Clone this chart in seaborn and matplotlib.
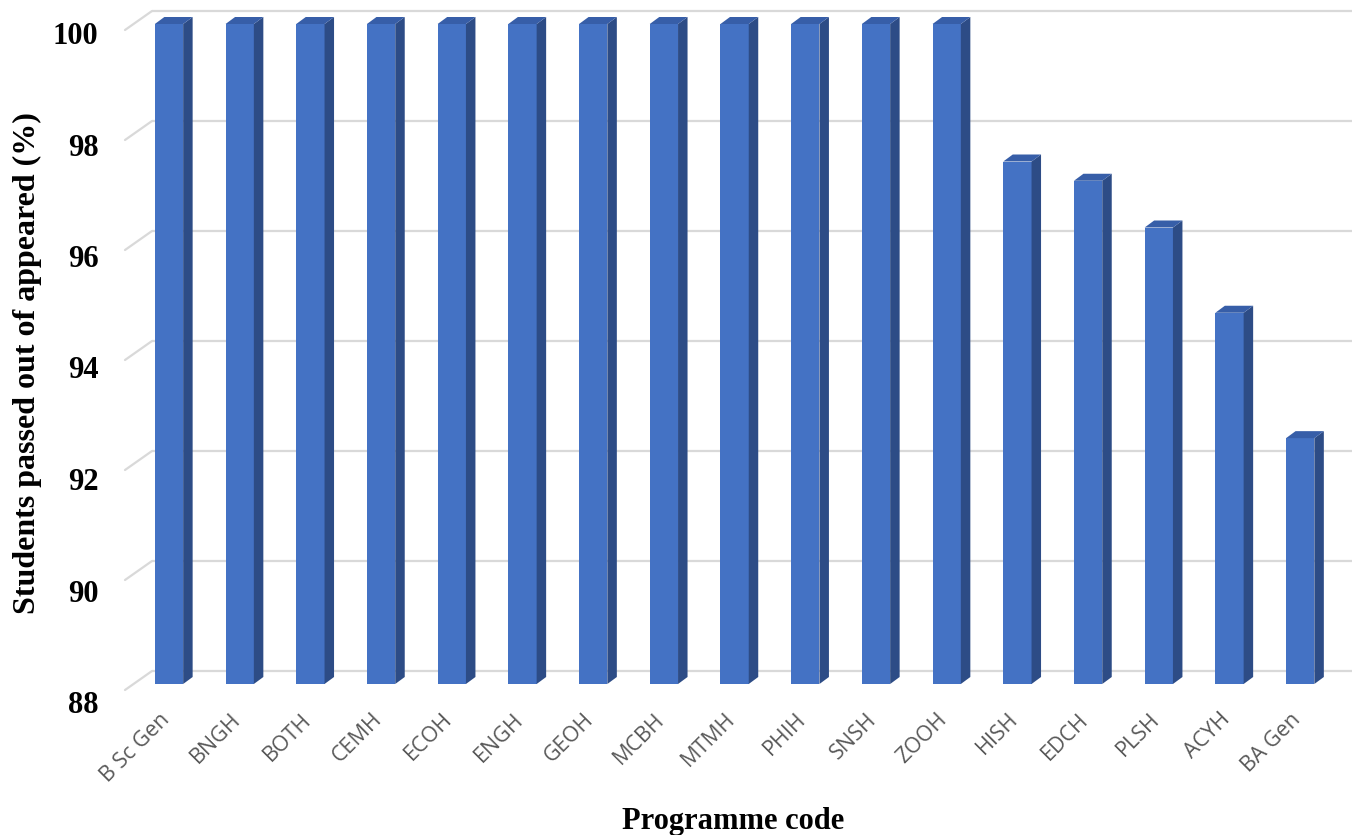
import numpy as np
import pandas as pd
import matplotlib
matplotlib.use("Agg")
import matplotlib.pyplot as plt
from matplotlib.patches import Polygon
import matplotlib.transforms as mtransforms
import seaborn as sns

# donnees
codes = ["B Sc Gen", "BNGH", "BOTH", "CEMH", "ECOH", "ENGH", "GEOH", "MCBH",
         "MTMH", "PHIH", "SNSH", "ZOOH", "HISH", "EDCH", "PLSH", "ACYH", "BA Gen"]
pass_pct = [100, 100, 100, 100, 100, 100, 100, 100,
            100, 100, 100, 100, 97.5, 97.15, 96.3, 94.75, 92.47]
y_ticks = [88, 90, 92, 94, 96, 98, 100]

df = pd.DataFrame({"code": codes, "pct": pass_pct})

FRONT = "#4472C4"
SIDE = "#2D4C86"
TOP = "#375EA8"
GRID = "#D9D9D9"

sns.set_theme(style="white")
W, H = 1359, 835
fig = plt.figure(figsize=(W / 100, H / 100), dpi=100)

# axes = plan avant des barres (88 -> y=684px, 100 -> y=24px)
ax_left, ax_right = 125, 1352
ax_bot, ax_top = 684, 24
ax = fig.add_axes([ax_left / W, (H - ax_bot) / H,
                   (ax_right - ax_left) / W, (ax_bot - ax_top) / H])

sns.barplot(data=df, x="code", y="pct", color=FRONT, saturation=1,
            width=0.4, ax=ax, zorder=3, linewidth=0)

step = 70.7                      # px par categorie
x0 = -44 / step                  # premier centre a 44 px du bord gauche
x1 = x0 + (ax_right - ax_left) / step
ax.set_xlim(x0, x1)
ax.set_ylim(88, 100)
py = (ax_bot - ax_top) / 12.0    # px par unite en y

# effet 3D des grilles : mur du fond + diagonale vers l'avant
back_dx = 27 / step
for v in y_ticks:
    ax.plot([x0 + back_dx, x1], [v + 13 / py] * 2, color=GRID, lw=1.6,
            clip_on=False, zorder=0, solid_capstyle="butt")
    ax.plot([x0, x0 + back_dx], [v - 6 / py, v + 13 / py], color=GRID, lw=1.6,
            clip_on=False, zorder=0)

# faces laterales et superieures
dx, dy = 9.5 / step, 7 / py
for p in list(ax.patches):
    xl = p.get_x()
    xr = xl + p.get_width()
    h = p.get_height()
    side = Polygon([(xr, 88), (xr + dx, 88 + dy), (xr + dx, h + dy), (xr, h)],
                   closed=True, facecolor=SIDE, edgecolor="none",
                   zorder=3, clip_on=False)
    top = Polygon([(xl, h), (xl + dx, h + dy), (xr + dx, h + dy), (xr, h)],
                  closed=True, facecolor=TOP, edgecolor="none",
                  zorder=3, clip_on=False)
    ax.add_patch(side)
    ax.add_patch(top)

for s in ax.spines.values():
    s.set_visible(False)
ax.grid(False)
ax.tick_params(length=0)

ax.set_yticks(y_ticks)
ax.set_yticklabels([str(v) for v in y_ticks], fontsize=22, fontweight="bold",
                   family="Liberation Serif", color="black")
ax.tick_params(axis="y", pad=19)
for v, lab in zip(y_ticks, ax.get_yticklabels()):
    off = (18 - (v - 88) * 0.75) / 100
    lab.set_transform(lab.get_transform() +
                      mtransforms.ScaledTranslation(0, -off, fig.dpi_scale_trans))

ax.set_xticks(range(len(codes)))
ax.set_xticklabels(codes, rotation=45, ha="right", va="top",
                   rotation_mode="anchor", fontsize=15.5, family="Open Sans",
                   color="#595959")
ax.tick_params(axis="x", pad=18)
for lab in ax.get_xticklabels():
    lab.set_transform(lab.get_transform() +
                      mtransforms.ScaledTranslation(-0.10, 0, fig.dpi_scale_trans))

ax.set_xlabel("Programme code", fontsize=22, fontweight="bold",
              family="Liberation Serif", color="black")
ax.xaxis.label.set(ha="center", va="center")
ax.xaxis.set_label_coords((733 - ax_left) / (ax_right - ax_left),
                          (ax_bot - 821) / (ax_bot - ax_top))
ax.set_ylabel("Students passed out of appeared (%)", fontsize=23,
              fontweight="bold", family="Liberation Serif", color="black")
ax.yaxis.label.set(ha="center", va="center")
ax.yaxis.set_label_coords((27 - ax_left) / (ax_right - ax_left),
                          (ax_bot - 363) / (ax_bot - ax_top))

fig.savefig("out.png", dpi=100)
